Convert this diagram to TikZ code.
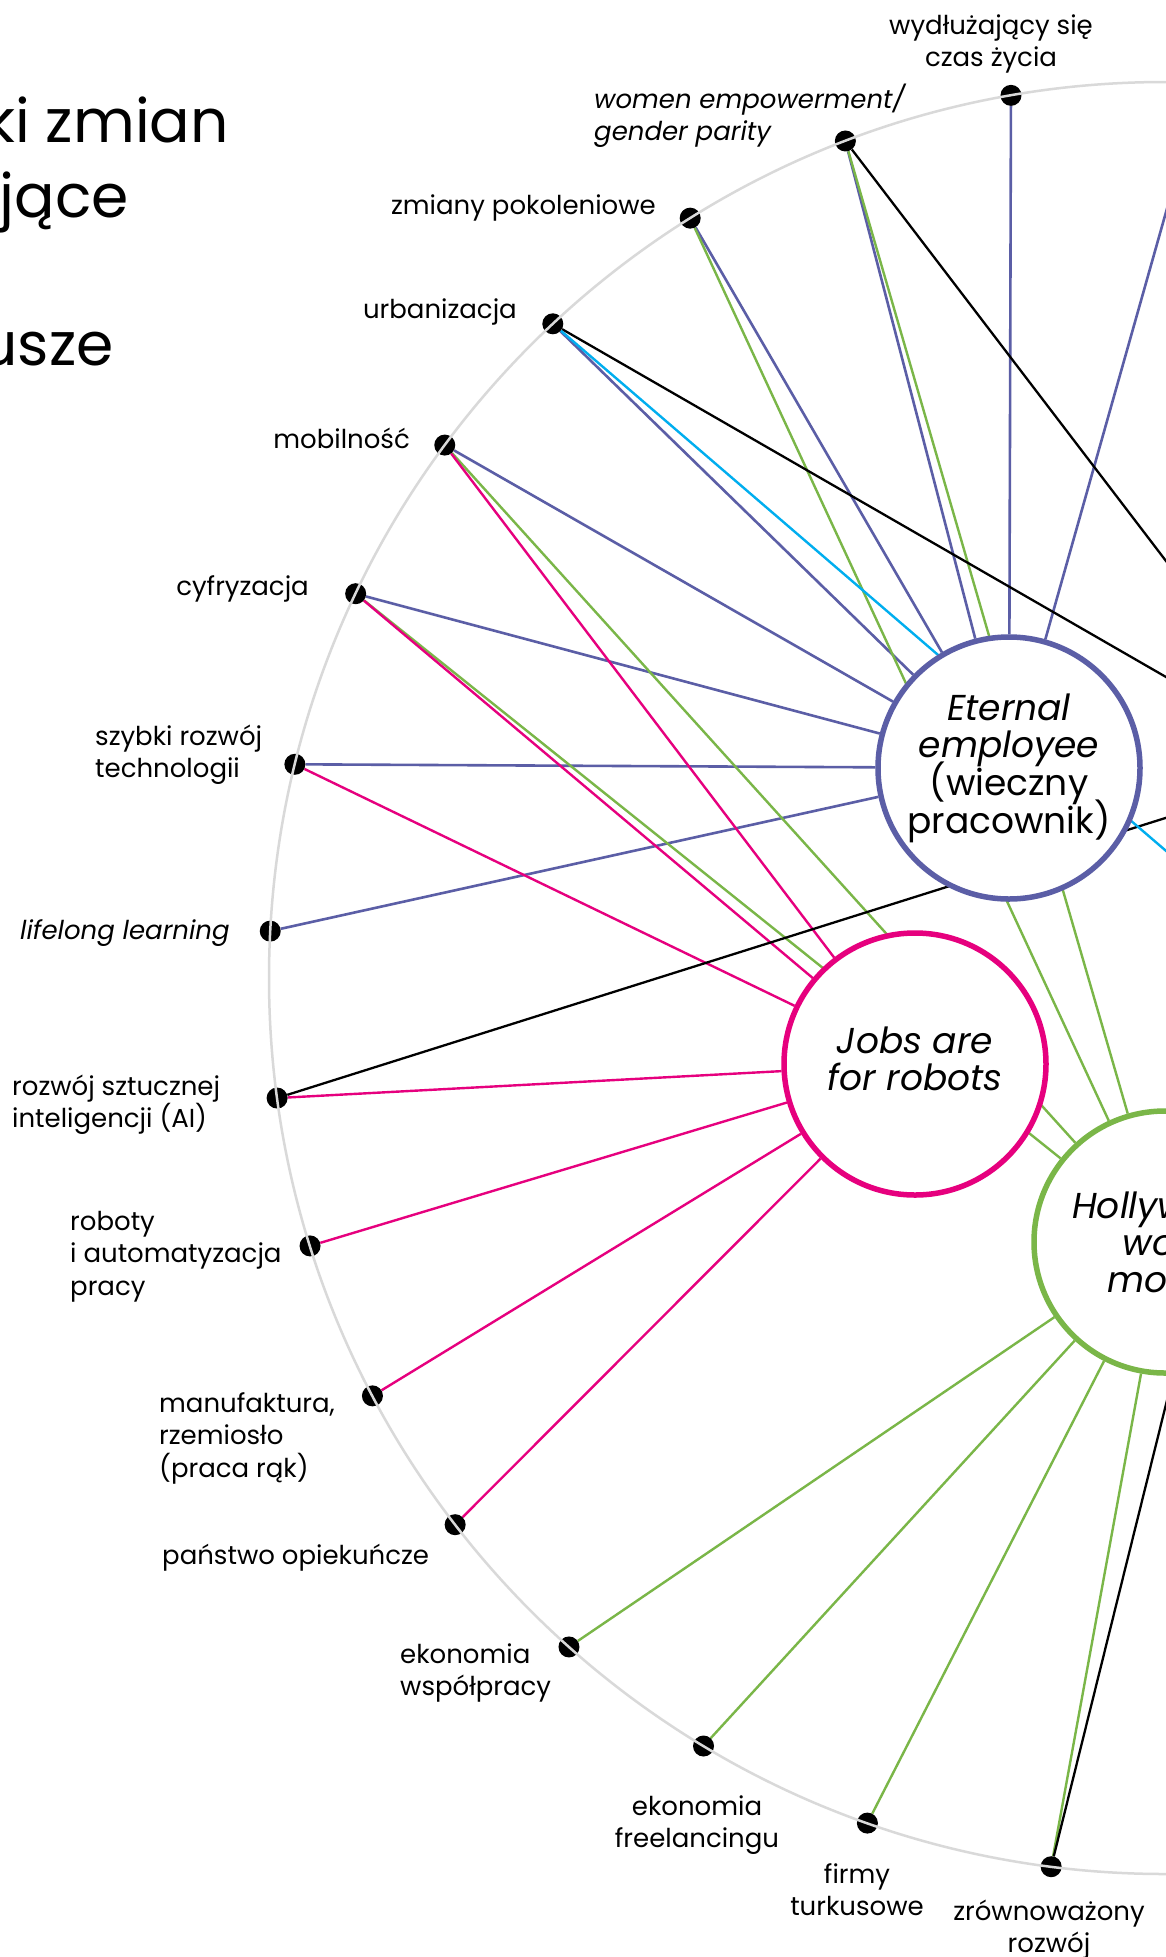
\documentclass[tikz,border=0pt]{standalone}
\usepackage{fontspec}
\setmainfont{Poppins}
\usetikzlibrary{calc}
\pgfdeclarelayer{bg}
\pgfsetlayers{bg,main}
\definecolor{epurple}{RGB}{91,94,166}
\definecolor{rmag}{RGB}{230,0,126}
\definecolor{hgreen}{RGB}{122,182,72}
\definecolor{tcyan}{RGB}{0,174,239}
\definecolor{ringgray}{RGB}{217,217,217}
\newcommand\LftLines[1]{\vtop{\lineskiplimit=-1000pt\halign{##\hfil\cr#1\crcr}}}
\newcommand\CtrLines[1]{\vtop{\lineskiplimit=-1000pt\halign{\hfil##\hfil\cr#1\crcr}}}
\begin{document}
\begin{tikzpicture}[x=1pt,y=-1pt,
  lbl/.style={inner sep=0pt, font=\fontsize{26}{32.5}\selectfont},
  lbli/.style={inner sep=0pt, font=\fontsize{26}{32.5}\selectfont\itshape},
  ttl/.style={inner sep=0pt, font=\fontsize{60}{75}\selectfont},
  hubtxt/.style={inner sep=0pt, font=\fontsize{36}{37.8}\selectfont},
  hubtxti/.style={inner sep=0pt, font=\fontsize{36}{37.3}\selectfont\itshape},
  dotm/.style={circle, fill=black, inner sep=0pt, minimum size=21pt},
  hub/.style={circle, fill=white, line width=5.5pt, minimum size=262pt, inner sep=0pt},
  purp/.style={draw=epurple, line width=2.6pt},
  grn/.style={draw=hgreen, line width=2.4pt},
  mag/.style={draw=rmag, line width=2.4pt},
  blk/.style={draw=black, line width=2.3pt},
  cyn/.style={draw=tcyan, line width=2.4pt}]
\useasboundingbox (0,0) rectangle (1165,1957);
\begin{pgfonlayer}{bg}
\fill[white] (0,0) rectangle (1165,1957);
\end{pgfonlayer}
\coordinate (C) at (1165,978);
\coordinate (B) at (1324,768);
\coordinate (T) at (1400,1052);
% dots
\foreach \n/\a in {0/87.6,1/99.9,2/110.9,3/122.0,4/133.1,5/143.5,6/154.6,7/166.2,8/177.0,9/187.7,10/197.4,11/207.8,12/217.6,13/228.3,14/239.0,15/250.6,16/262.7}
  \node[dotm] (d\n) at ([shift={(-\a:896)}]C) {};
% ring
\draw[ringgray, line width=2.5pt] (C) circle[radius=896];
% hubs
\node[hub, draw=epurple] (E) at (1009,768) {};
\node[hub, draw=rmag] (J) at (915,1064) {};
\node[hub, draw=hgreen] (H) at (1165,1242) {};
\node[hubtxt, anchor=base] (et) at (1009,720) {\CtrLines{\itshape Eternal\cr\itshape employee\cr(wieczny\cr pracownik)}};
\node[hubtxti, anchor=base] (jt) at (915,1053) {\CtrLines{Jobs are\cr for robots}};
\node[hubtxti, anchor=base] (ht) at (1165,1218) {\CtrLines{Hollywood\cr work\cr model}};
% connectors
\begin{pgfonlayer}{bg}
\foreach \n in {0,1,2,3,4,5,6,7,8} \draw[purp] (d\n) -- (E);
\foreach \n in {2,3,5,6,13,14,15,16} \draw[grn] (d\n) -- (H);
\foreach \n in {5,6,7,9,10,11,12} \draw[mag] (d\n) -- (J);
\foreach \n in {2,4,9,16} \draw[blk] (d\n) -- (B);
\draw[cyn] (d4) -- (T);
\end{pgfonlayer}
% title
\node[ttl, anchor=base east] (t1) at (229,142) {ki zmian};
\node[ttl, anchor=base east] (t2) at (129,217) {ujące};
\node[ttl, anchor=base east] (t3) at (114,365) {usze};
% labels
\node[lbl, anchor=base] (l1) at (991,34) {\CtrLines{wydłużający się\cr czas życia}};
\node[lbli, anchor=base west] (l2) at (594,108) {\LftLines{women empowerment/\cr gender parity}};
\node[lbl, anchor=base east] (l3) at (656,214) {zmiany pokoleniowe};
\node[lbl, anchor=base east] (l4) at (517,318) {urbanizacja};
\node[lbl, anchor=base east] (l5) at (410,448) {mobilność};
\node[lbl, anchor=base east] (l6) at (309,595) {cyfryzacja};
\node[lbl, anchor=base west] (l7) at (95,745) {\LftLines{szybki rozwój\cr technologii}};
\node[lbli, anchor=base west] (l8) at (20,939) {lifelong learning};
\node[lbl, anchor=base west] (l9) at (12,1095) {\LftLines{rozwój sztucznej\cr inteligencji (AI)}};
\node[lbl, anchor=base west] (l10) at (70,1230) {\LftLines{roboty\cr i automatyzacja\cr pracy}};
\node[lbl, anchor=base west] (l11) at (159,1412) {\LftLines{manufaktura,\cr rzemiosło\cr (praca rąk)}};
\node[lbl, anchor=base west] (l12) at (162,1564) {państwo opiekuńcze};
\node[lbl, anchor=base west] (l13) at (400,1663) {\LftLines{ekonomia\cr współpracy}};
\node[lbl, anchor=base] (l14) at (697,1815) {\CtrLines{ekonomia\cr freelancingu}};
\node[lbl, anchor=base] (l15) at (857,1883) {\CtrLines{firmy\cr turkusowe}};
\node[lbl, anchor=base] (l16) at (1049,1920) {\CtrLines{zrównoważony\cr rozwój}};
\end{tikzpicture}
\end{document}
